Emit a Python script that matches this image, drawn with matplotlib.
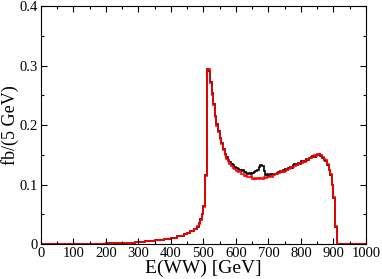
import numpy as np
import matplotlib as mpl
mpl.use('Agg')
import matplotlib.pyplot as plt
from matplotlib.ticker import MultipleLocator

mpl.rcParams.update({'font.family': 'Liberation Serif', 'font.size': 10.5})

# coarse bins below 480 GeV (curves overlap there)
low_edges = [0, 170, 200, 230, 260, 290, 320, 350, 380, 400, 420, 440, 450, 460, 470, 480]
low_vals = [0.0, 0.0005, 0.001, 0.0015, 0.0025, 0.0035, 0.005, 0.0065, 0.008,
            0.010, 0.013, 0.016, 0.019, 0.022, 0.025]

# 5 GeV bins from 480 to 910 GeV
black = [0.029, 0.035, 0.042, 0.050, 0.064, 0.116, 0.294, 0.291, 0.272, 0.253,
         0.236, 0.215, 0.201, 0.190, 0.179, 0.170, 0.160, 0.152, 0.146, 0.141,
         0.137, 0.134, 0.132, 0.130, 0.128, 0.126, 0.125, 0.122, 0.124, 0.121,
         0.120, 0.118, 0.120, 0.118, 0.119, 0.121, 0.123, 0.125, 0.129, 0.132,
         0.131, 0.122, 0.116, 0.118, 0.115, 0.117, 0.116, 0.118, 0.117, 0.120,
         0.121, 0.123, 0.121, 0.124, 0.126, 0.124, 0.128, 0.130, 0.128, 0.132,
         0.134, 0.133, 0.136, 0.135, 0.139, 0.137, 0.140, 0.143, 0.141, 0.145,
         0.146, 0.148, 0.147, 0.150, 0.149, 0.151, 0.148, 0.145, 0.142, 0.140,
         0.133, 0.124, 0.116, 0.099, 0.078, 0.029]
red = [0.030, 0.034, 0.041, 0.050, 0.063, 0.114, 0.292, 0.294, 0.270, 0.250,
       0.234, 0.213, 0.199, 0.188, 0.177, 0.168, 0.158, 0.150, 0.143, 0.139,
       0.135, 0.131, 0.128, 0.126, 0.123, 0.121, 0.122, 0.117, 0.118, 0.115,
       0.116, 0.113, 0.112, 0.114, 0.110, 0.111, 0.109, 0.111, 0.110, 0.111,
       0.109, 0.112, 0.111, 0.113, 0.112, 0.114, 0.113, 0.116, 0.117, 0.118,
       0.120, 0.121, 0.122, 0.121, 0.123, 0.125, 0.126, 0.127, 0.129, 0.130,
       0.131, 0.133, 0.134, 0.136, 0.136, 0.139, 0.138, 0.140, 0.143, 0.144,
       0.145, 0.146, 0.149, 0.148, 0.151, 0.149, 0.149, 0.146, 0.143, 0.141,
       0.134, 0.125, 0.117, 0.100, 0.079, 0.030]

fine_edges = list(range(480, 915, 5))
edges = low_edges[:-1] + fine_edges + [1000]
vals_black = low_vals + black + [0.0]
vals_red = low_vals + red + [0.0]

fig = plt.figure(figsize=(3.82, 2.79), dpi=100)
ax = fig.add_axes([0.1073, 0.1254, 0.8507, 0.8531])

ax.stairs(vals_black, edges, color='black', lw=1.2)
ax.stairs(vals_red, edges, color='red', lw=1.2)

ax.set_xlim(0, 1000)
ax.set_ylim(0, 0.4)
ax.xaxis.set_major_locator(MultipleLocator(100))
ax.xaxis.set_minor_locator(MultipleLocator(50))
ax.yaxis.set_minor_locator(MultipleLocator(0.05))
ax.set_yticks([0, 0.1, 0.2, 0.3, 0.4])
ax.set_yticklabels(['0', '0.1', '0.2', '0.3', '0.4'])
ax.tick_params(which='both', direction='in', top=True, right=True, width=0.8)
ax.tick_params(which='major', length=4.5, pad=2)
ax.tick_params(which='minor', length=2.5)
for s in ax.spines.values():
    s.set_linewidth(0.8)

ax.set_xlabel('E(WW) [GeV]', fontsize=14, labelpad=0)
ax.set_ylabel('fb/(5 GeV)', fontsize=13)
ax.yaxis.set_label_coords(-0.068, 0.5)

fig.savefig('out.png', dpi=100)
